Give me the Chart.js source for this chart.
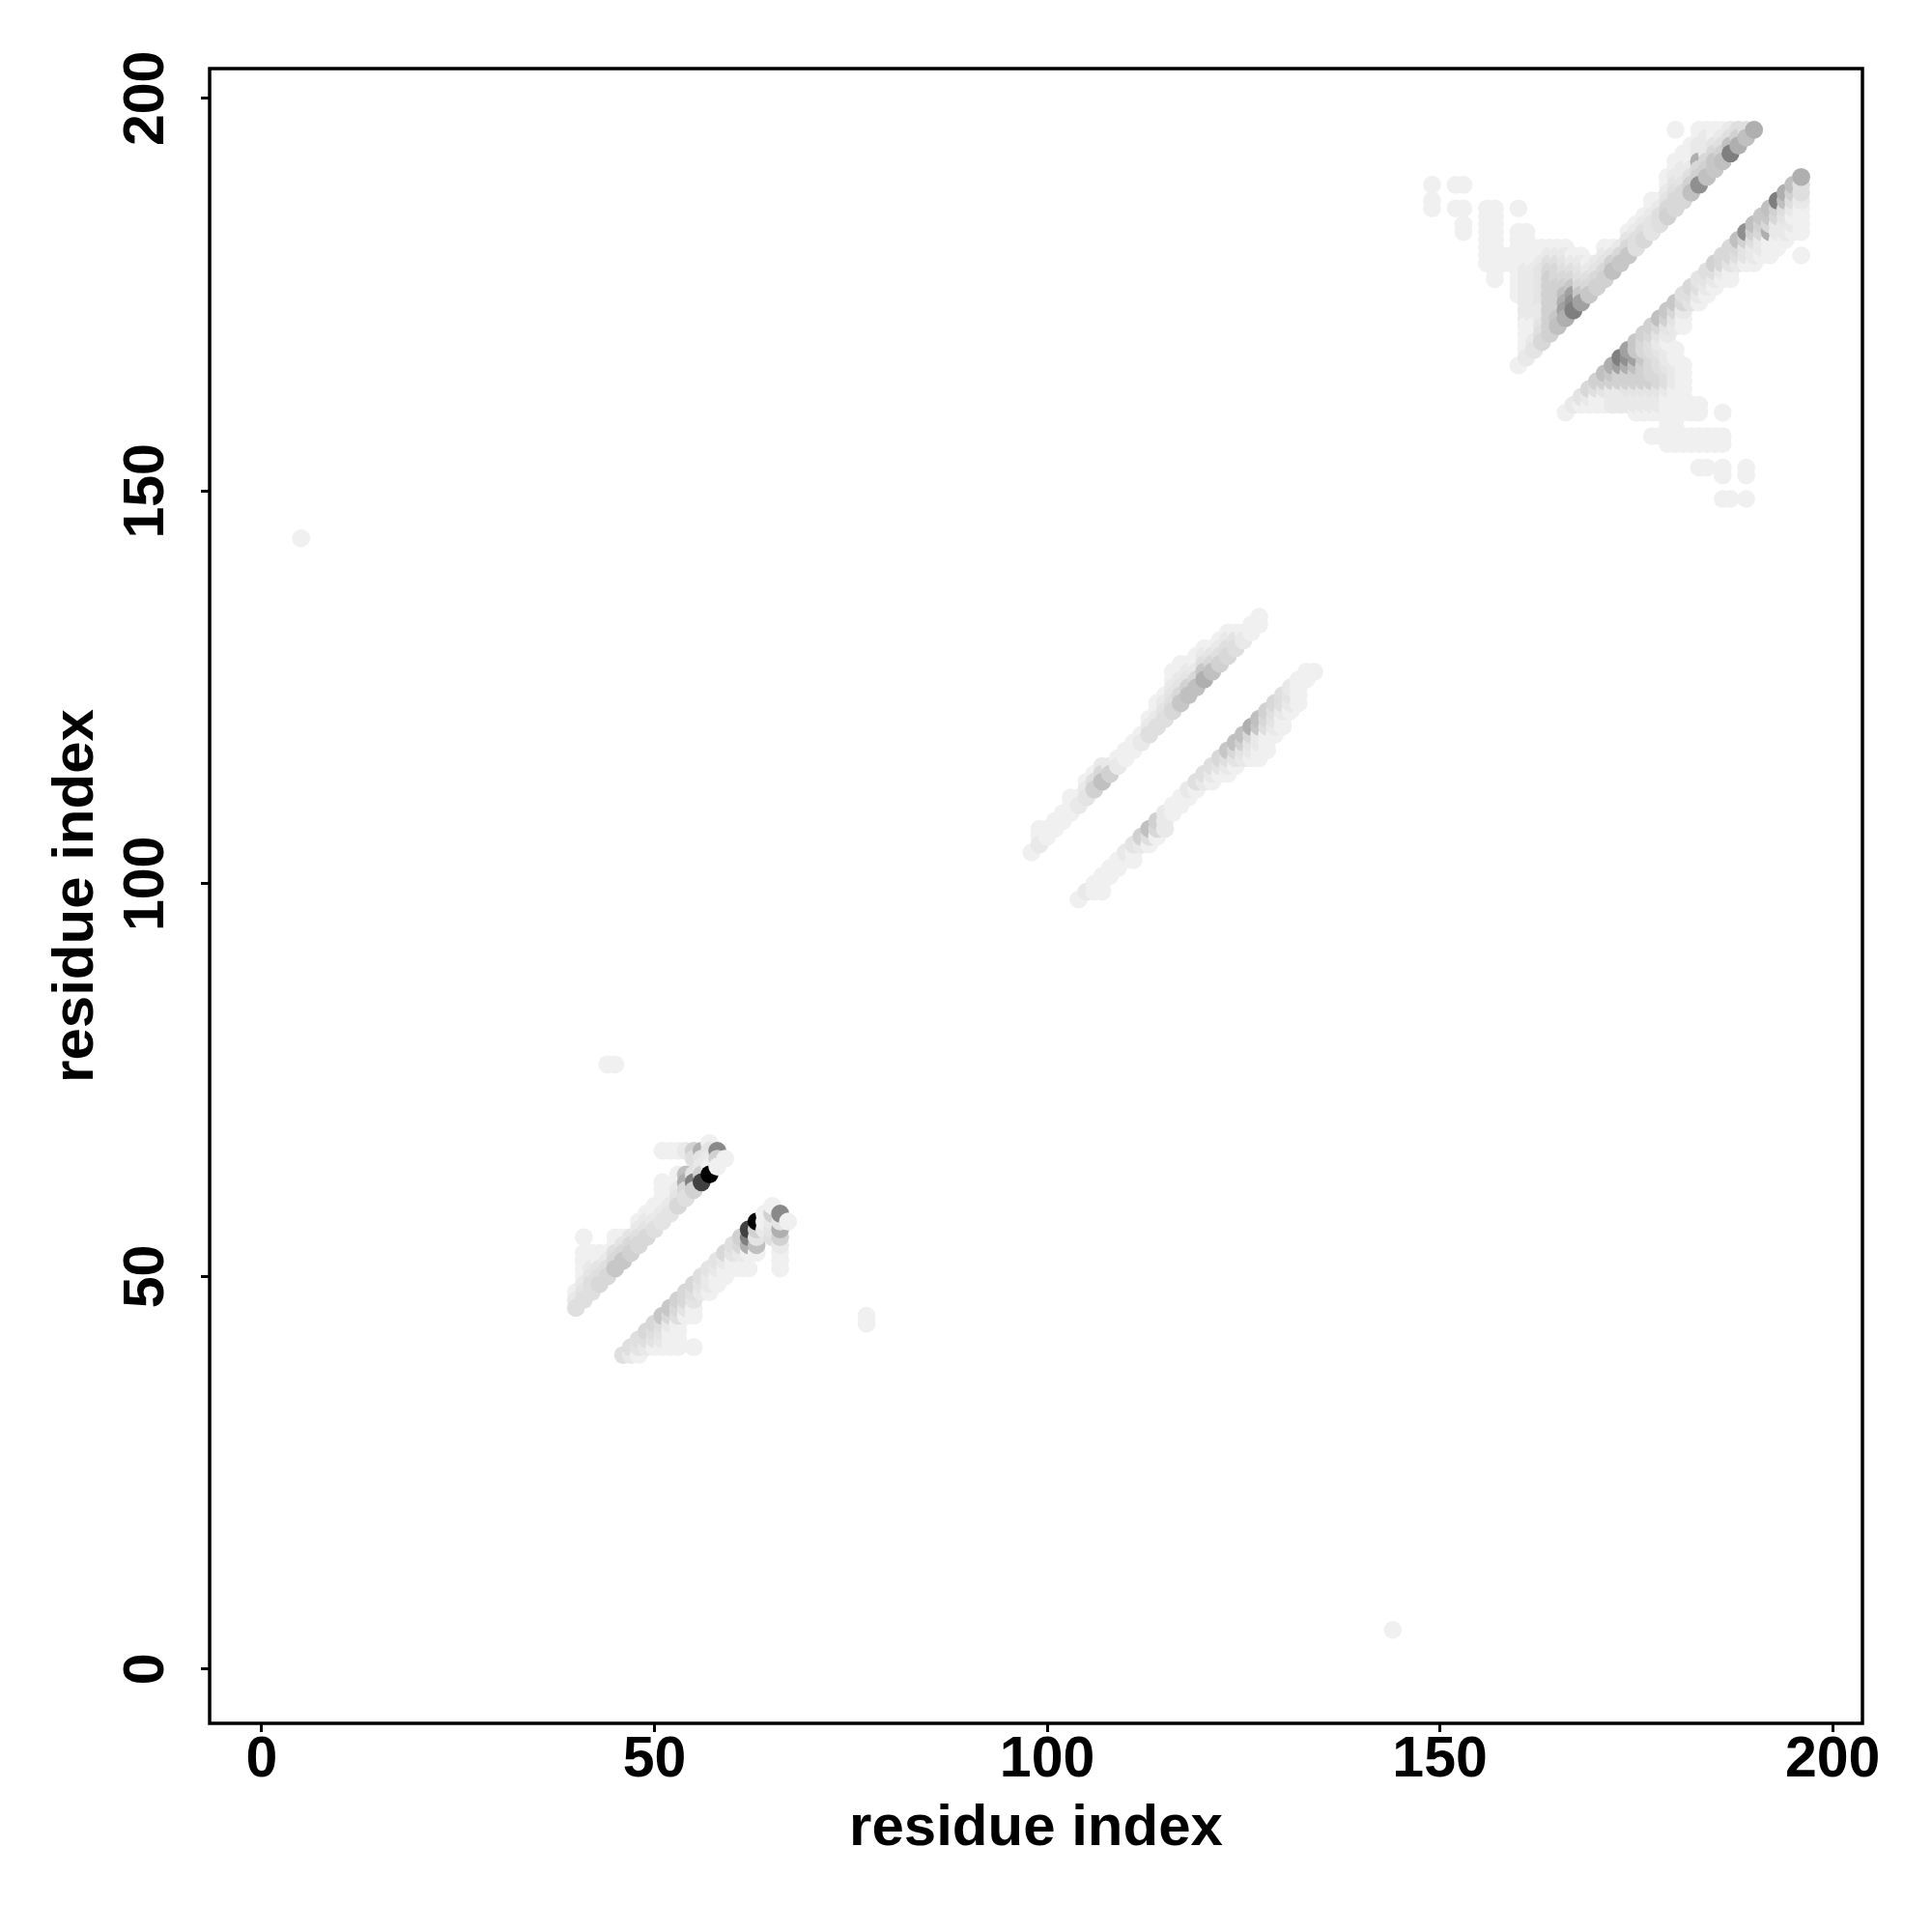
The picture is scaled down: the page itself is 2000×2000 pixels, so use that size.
<!DOCTYPE html>
<html>
<head>
<meta charset="utf-8">
<title>contact map</title>
<script src="https://cdn.jsdelivr.net/npm/chart.js@4/dist/chart.umd.min.js"></script>
<style>
  html, body { margin: 0; background: #fff; }
  canvas { display: block; }
</style>
</head>
<body>
<canvas id="mapa" width="2000" height="2000"></canvas>
<script>
// Filas: [residuo x, primer residuo y, frecuencias para y, y+1, y+2...]
// Solo el triangulo superior, el mapa es simetrico
const clusterBajo = [
    [40, 46, [7, 3, 0]],
    [41, 47, [7, 5, 3, 0, 0, 0, 0]], [41, 55, [0]],
    [42, 48, [7, 7, 5, 3, 0, 0]],
    [43, 49, [10, 7, 5, 0, 0]],
    [44, 50, [10, 7, 3, 0]],
    [45, 51, [17, 10, 7, 0, 0]],
    [46, 52, [17, 10, 5, 0]],
    [47, 53, [13, 10, 5]],
    [48, 54, [10, 7, 3, 0]],
    [49, 55, [10, 5, 3, 0]],
    [50, 56, [7, 3, 0, 0]],
    [51, 57, [5, 3, 0, 0, 0, 0]], [51, 66, [0]],
    [52, 58, [5, 3, 0]], [52, 66, [0]],
    [53, 59, [10, 5, 3, 0, 0]], [53, 66, [0]],
    [54, 60, [7, 10, 27, 20]], [54, 66, [3]],
    [55, 61, [13, 47, 5]], [55, 65, [7, 13]],
    [56, 62, [73, 13, 3, 5, 27]],
    [57, 63, [100, 0, 3, 5, 0]],
    [58, 64, [0, 13, 43]],
    [59, 65, [0]]
];
const clusterMedio = [
    [98, 104, [0]],
    [99, 105, [3, 0, 0]],
    [100, 106, [0, 0]],
    [101, 107, [0, 0]],
    [102, 108, [0, 0]],
    [103, 109, [0, 0, 0]],
    [104, 110, [3, 0]],
    [105, 111, [5, 3, 0]],
    [106, 112, [13, 7, 0]],
    [107, 113, [20, 10, 3]],
    [108, 114, [13, 3]],
    [109, 115, [3, 0]],
    [110, 116, [0, 0]],
    [111, 117, [0, 0]],
    [112, 118, [3, 0]],
    [113, 119, [7, 3, 0]],
    [114, 120, [7, 3, 0, 0]],
    [115, 121, [7, 5, 3, 0]],
    [116, 122, [10, 7, 5, 3, 0, 0]],
    [117, 123, [17, 10, 5, 3, 0, 0]],
    [118, 124, [20, 13, 5, 3, 0]],
    [119, 125, [20, 10, 3, 0, 0]],
    [120, 126, [27, 17, 7, 3, 0]],
    [121, 127, [20, 10, 5, 0]],
    [122, 128, [13, 7, 3, 0]],
    [123, 129, [10, 7, 3, 0]],
    [124, 130, [7, 5, 0]],
    [125, 131, [3, 0]],
    [126, 132, [0, 0]],
    [127, 133, [0, 0]]
];
const clusterAlto = [
    [149, 186, [0, 0]], [149, 189, [0]],
    [152, 186, [0]], [152, 189, [0]],
    [153, 183, [0, 0]], [153, 186, [0]], [153, 189, [0]],
    [156, 179, [0, 0, 0, 0, 0, 0, 0, 0]],
    [157, 177, [0, 0, 0, 0, 0, 0, 0, 0, 0, 0]],
    [158, 179, [0, 0]],
    [159, 179, [0, 0]],
    [160, 166, [0]], [160, 175, [0, 0, 0, 0, 0, 0, 0, 0, 0]], [160, 186, [0]],
    [161, 167, [3, 0, 0]], [161, 170, [0, 0, 3, 3, 3, 3, 3, 3, 3, 0, 0, 0, 0, 0]],
    [162, 168, [5, 3, 0, 0, 3, 3, 3, 3, 3, 3, 3, 0, 0, 0]],
    [163, 169, [10, 7, 5, 3, 3, 5, 5, 5, 5, 5, 3, 0, 0]],
    [164, 170, [13, 13, 13, 13, 13, 13, 13, 13, 10, 7, 3, 0]],
    [165, 171, [20, 17, 13, 13, 13, 13, 10, 10, 7, 3, 0]],
    [166, 172, [27, 33, 27, 20, 13, 10, 7, 5, 3, 0]],
    [167, 173, [47, 40, 33, 17, 10, 7, 3, 0]],
    [168, 174, [33, 17, 10, 7, 5, 3, 0]],
    [169, 175, [17, 10, 7, 3, 0]],
    [170, 176, [13, 10, 5, 3]],
    [171, 177, [13, 10, 5, 3, 0]],
    [172, 178, [20, 13, 5, 0]],
    [173, 179, [17, 10, 3]],
    [174, 180, [17, 10, 5, 0]],
    [175, 181, [7, 7, 3, 0]],
    [176, 182, [10, 7, 3, 0]],
    [177, 183, [5, 5, 3, 0, 0]],
    [178, 184, [7, 7, 3, 0]],
    [179, 185, [13, 10, 5, 3, 0, 0]],
    [180, 186, [10, 10, 7, 5, 3, 0, 0]], [180, 196, [0]],
    [181, 187, [10, 10, 5, 3, 3, 0, 0]],
    [182, 188, [20, 13, 7, 3, 0, 0, 0]],
    [183, 189, [40, 13, 10, 27, 3, 3, 0, 0]],
    [184, 190, [20, 13, 10, 3, 3, 3, 0]],
    [185, 191, [17, 17, 10, 5, 0, 0]],
    [186, 192, [20, 13, 7, 3, 0]],
    [187, 193, [47, 20, 7, 3]],
    [188, 194, [27, 13, 7]],
    [189, 195, [20, 7]],
    [190, 196, [27]]
];
const contactosSueltos = [
    [5, 144, [0]],
    [44, 77, [0]],
    [45, 77, [0]]
];
const tickValores = [0, 50, 100, 150, 200];
const tituloEje = 'residue index';

const filas = [...clusterBajo, ...clusterMedio, ...clusterAlto, ...contactosSueltos];
const puntos = [];
filas.forEach(([x, y0, frecs]) => {
    frecs.forEach((f, k) => {
        puntos.push({ x: x, y: y0 + k, f: f });
        puntos.push({ x: y0 + k, y: x, f: f });
    });
});
// Orden de dibujo: x creciente y, en cada columna, lo mas cercano a la diagonal encima
puntos.sort((a, b) => a.x - b.x || Math.abs(b.x - b.y) - Math.abs(a.x - a.y));

function gris(f) {
    const g = Math.round(240 * (1 - f / 100));
    return `rgb(${g},${g},${g})`;
}

const fuenteTicks = { family: '"Liberation Sans"', size: 59, weight: 'bold' };
const fuenteTitulo = { family: '"Liberation Sans"', size: 60, weight: 'bold' };

const marco = {
    id: 'marco',
    afterDraw(chart) {
        const { ctx, chartArea: a } = chart;
        ctx.save();
        ctx.strokeStyle = '#000';
        ctx.lineWidth = 3.5;
        ctx.strokeRect(a.left, a.top, a.right - a.left, a.bottom - a.top);
        ctx.restore();
    }
};

function ponerTicks(scale) {
    scale.ticks = tickValores.map(v => ({ value: v }));
}

new Chart(document.getElementById('mapa'), {
    type: 'scatter',
    data: {
        datasets: [{
            data: puntos,
            pointRadius: 9.3,
            pointBorderWidth: 0,
            pointBackgroundColor: puntos.map(p => gris(p.f))
        }]
    },
    options: {
        responsive: false,
        animation: false,
        layout: { padding: { top: 71, right: 72, left: 0, bottom: 0 } },
        plugins: { legend: { display: false }, tooltip: { enabled: false } },
        scales: {
            x: {
                type: 'linear',
                min: -6.64,
                max: 203.8,
                afterBuildTicks: ponerTicks,
                afterFit(scale) { scale.height = 216; },
                grid: { drawOnChartArea: false, tickLength: 9, tickWidth: 3, tickColor: '#000' },
                border: { display: false },
                ticks: { color: '#000', font: fuenteTicks, padding: -6, maxRotation: 0, minRotation: 0, autoSkip: false },
                title: {
                    display: true, text: tituloEje, color: '#000', font: fuenteTitulo,
                    padding: { top: 0, bottom: 71 }
                }
            },
            y: {
                type: 'linear',
                min: -6.9,
                max: 203.8,
                afterBuildTicks: ponerTicks,
                afterFit(scale) { scale.width = 217; },
                grid: { drawOnChartArea: false, tickLength: 9, tickWidth: 3, tickColor: '#000' },
                border: { display: false },
                ticks: { color: '#000', font: fuenteTicks, padding: 6, minRotation: 90, maxRotation: 90, crossAlign: 'center', autoSkip: false },
                title: {
                    display: true, text: tituloEje, color: '#000', font: fuenteTitulo,
                    padding: { top: 43, bottom: 0 }
                }
            }
        }
    },
    plugins: [marco]
});
</script>
</body>
</html>
